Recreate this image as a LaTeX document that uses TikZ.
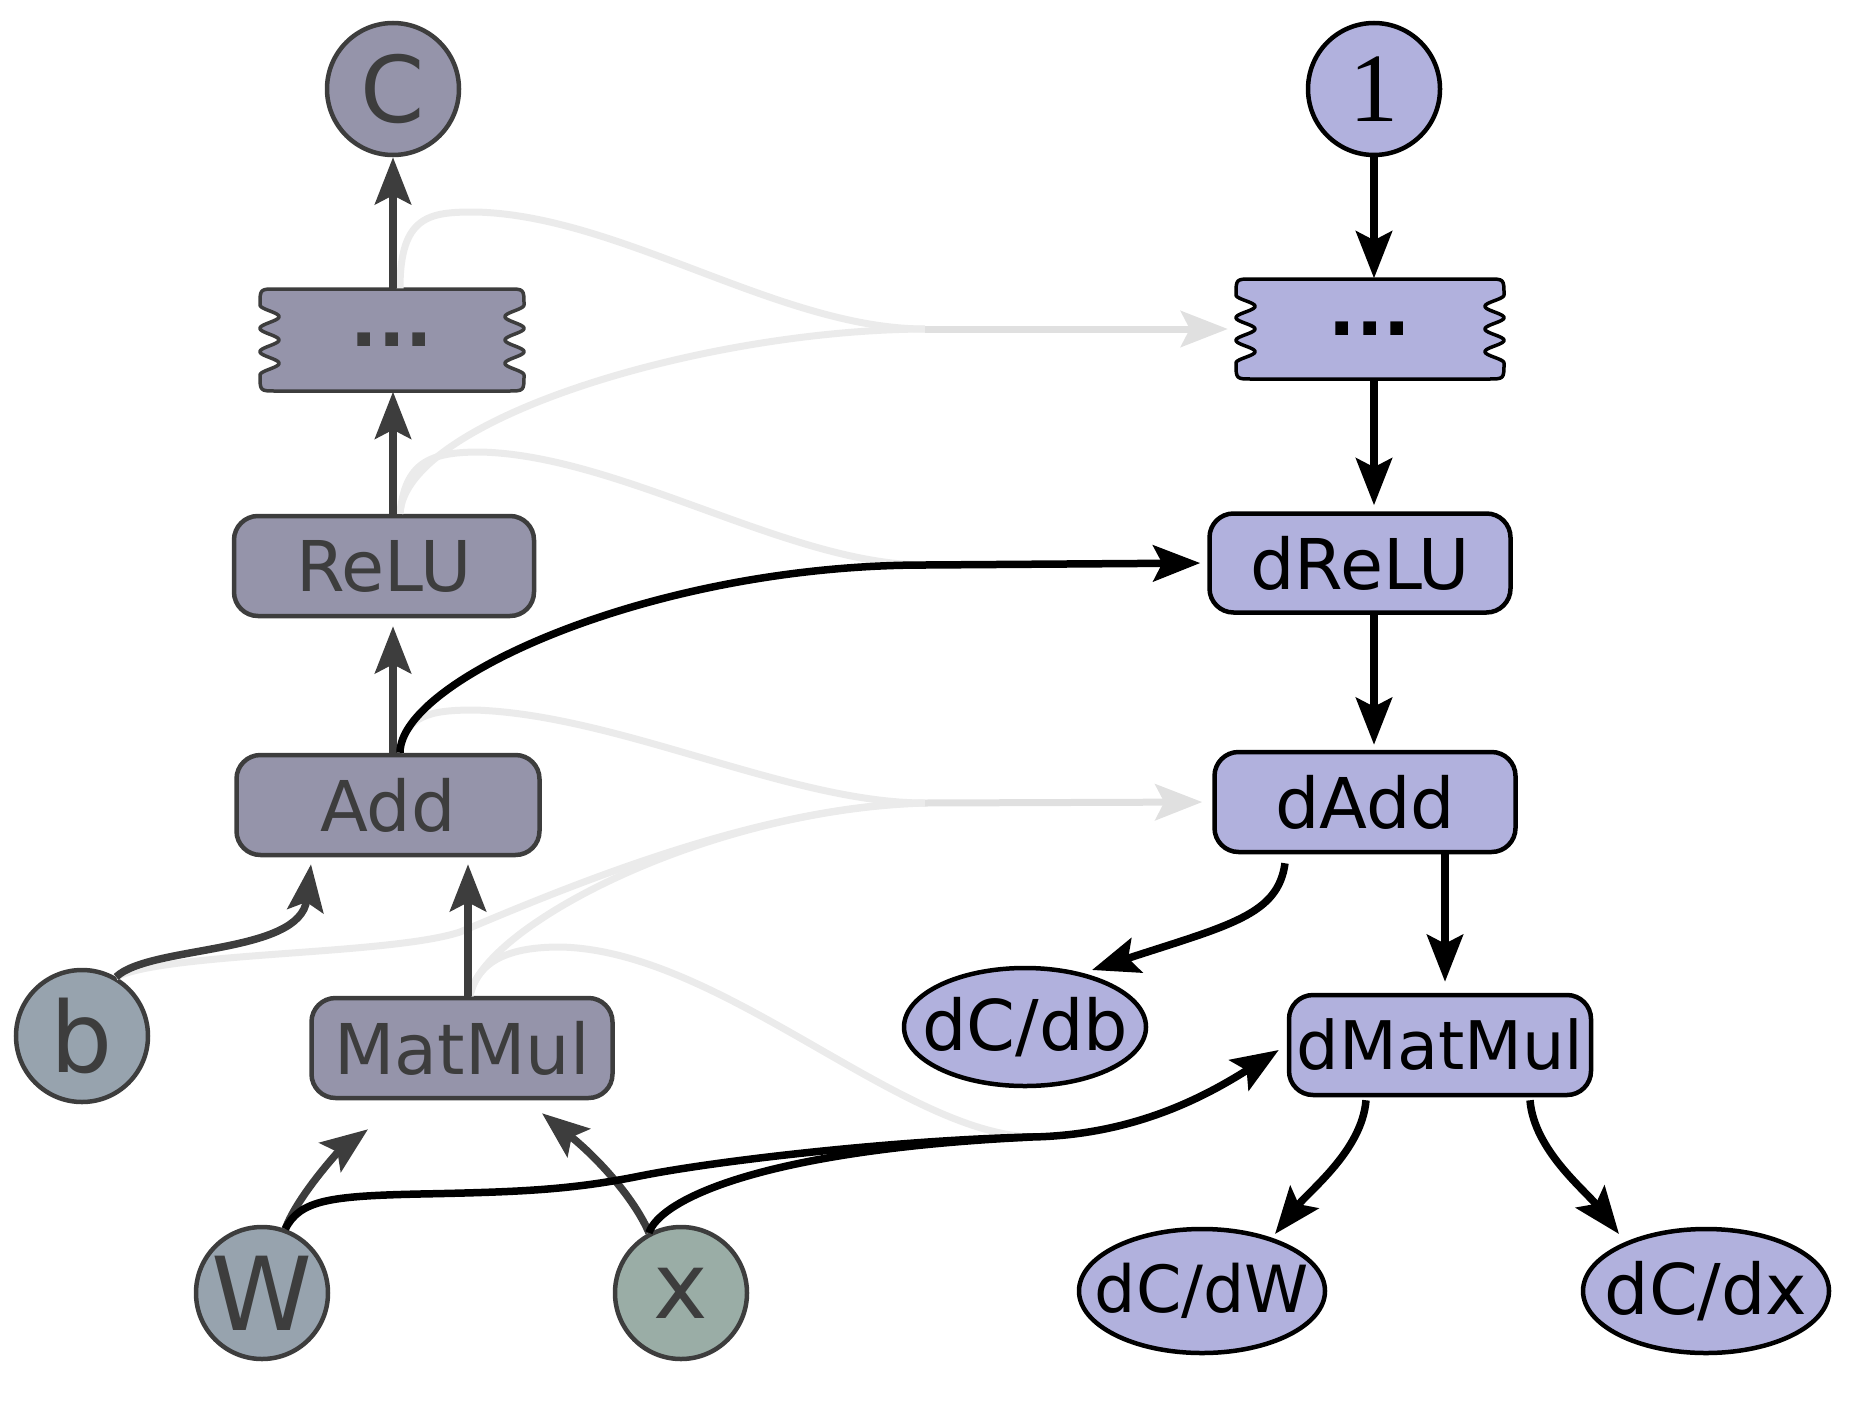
\documentclass[tikz,border=0pt]{standalone}
\usepackage{fontspec}
\setsansfont{DejaVu Sans}
\newfontfamily\oneserif{Liberation Serif}
\usetikzlibrary{arrows.meta,shapes.geometric}
\definecolor{dk}{HTML}{3D3D3D}
\definecolor{fwd}{HTML}{9594AA}
\definecolor{inp}{HTML}{97A3AE}
\definecolor{inx}{HTML}{9AADA6}
\definecolor{bwd}{HTML}{B1B1DD}
\definecolor{lg}{HTML}{EBEBEB}
\definecolor{lgb}{HTML}{E0E0E0}
\newcommand{\wavyoutline}[5]{%
  \draw[#5] ({#1-#3+16},{#2-#4}) -- ({#1+#3-16},{#2-#4})
    .. controls ({#1+#3},{#2-#4}) .. ({#1+#3},{#2-#4+16})
    -- plot[domain=0:1,samples=121,variable=\t] ({#1+#3-19*(1-cos(1080*\t))/2},{#2-#4+16+\t*(2*#4-32)})
    .. controls ({#1+#3},{#2+#4}) .. ({#1+#3-16},{#2+#4})
    -- ({#1-#3+16},{#2+#4})
    .. controls ({#1-#3},{#2+#4}) .. ({#1-#3},{#2+#4-16})
    -- plot[domain=0:1,samples=121,variable=\t] ({#1-#3+19*(1-cos(1080*\t))/2},{#2+#4-16-\t*(2*#4-32)})
    .. controls ({#1-#3},{#2-#4}) .. ({#1-#3+16},{#2-#4}) -- cycle;}
\tikzset{
  base/.style={inner sep=0pt, font=\sffamily\fontsize{70}{84}\selectfont},
  fwdop/.style={base, draw=dk, fill=fwd, text=dk, line width=4.5pt, rounded corners=24pt, minimum width=300pt, minimum height=100pt},
  bwdop/.style={base, draw=black, fill=bwd, text=black, line width=4.5pt, rounded corners=24pt, minimum width=300pt, minimum height=100pt},
  var/.style={base, circle, draw=dk, line width=4.5pt, text=dk, minimum size=132pt},
  grad/.style={base, ellipse, draw=black, fill=bwd, line width=4.5pt},
  arrowtip/.style={-{Stealth[length=47pt,width=36pt,inset=9pt]}},
  darr/.style={draw=dk, line width=7.5pt, arrowtip},
  barr/.style={draw=black, line width=7.5pt, arrowtip},
  bline/.style={draw=black, line width=7.5pt},
  gline/.style={draw=lg, line width=7pt},
  garr/.style={draw=lgb, line width=7pt, arrowtip},
}
\begin{document}
\begin{tikzpicture}[x=1pt,y=-1pt]
\useasboundingbox (0,0) rectangle (1860,1402);
% wavy outlines
\wavyoutline{392}{340}{132}{51}{draw=dk, fill=fwd, line width=3.5pt, line join=round}
\wavyoutline{1370}{329}{134}{50}{draw=black, fill=bwd, line width=3.5pt, line join=round}
% forward nodes
\node[var, fill=fwd, font=\sffamily\fontsize{92}{100}\selectfont] (C) at (393,89) {C};
\node[base, text=dk, minimum width=264pt, minimum height=103pt, font=\sffamily\bfseries\fontsize{72}{84}\selectfont] (dotsL) at (392,340) {...};
\node[fwdop] (ReLU) at (384,566) {ReLU};
\node[fwdop, minimum width=303pt] (Add) at (388,805) {Add};
\node[fwdop, minimum width=301pt] (MatMul) at (462,1048) {MatMul};
\node[var, fill=inp, font=\sffamily\fontsize{98}{100}\selectfont] (b) at (82,1036) {b};
\node[var, fill=inp, font=\sffamily\fontsize{102}{100}\selectfont] (W) at (262,1293) {W};
\node[var, fill=inx, font=\sffamily\fontsize{92}{100}\selectfont] (x) at (681,1293) {x};
% backward nodes
\node[var, fill=bwd, draw=black, text=black, font=\oneserif\fontsize{98}{100}\selectfont] (one) at (1374,89) {1};
\node[base, text=black, minimum width=268pt, minimum height=101pt, font=\sffamily\bfseries\fontsize{72}{84}\selectfont] (dotsR) at (1370,329) {...};
\node[bwdop, minimum width=301pt, minimum height=99pt] (dReLU) at (1360,563) {dReLU};
\node[bwdop, minimum width=301pt] (dAdd) at (1365,802) {dAdd};
\node[bwdop, minimum width=302pt, font=\sffamily\fontsize{67}{80}\selectfont] (dMatMul) at (1440,1045) {dMatMul};
\node[grad, minimum width=242pt, minimum height=118pt] (dCdb) at (1025,1027) {\makebox[0pt][c]{dC/db}};
\node[grad, minimum width=246pt, minimum height=124pt, font=\sffamily\fontsize{65}{80}\selectfont] (dCdW) at (1202,1291) {\makebox[0pt][c]{dC/dW}};
\node[grad, minimum width=246pt, minimum height=124pt] (dCdx) at (1706,1291) {\makebox[0pt][c]{dC/dx}};
% merge points
\coordinate (gR) at (925,329);
\coordinate (gA) at (925,803);
\coordinate (mR) at (925,565);
\coordinate (mM) at (1032,1137);
% light grey connectors
\path[gline] ([xshift=8pt]dotsL.north) .. controls (400,215) and (430,212) .. (475,212) .. controls (620,215) and (780,329) .. (gR);
\path[gline] ([xshift=16pt]ReLU.north) .. controls (405,420) and (700,330) .. (gR);
\path[gline] ([xshift=16pt]ReLU.north) .. controls (405,462) and (430,452) .. (480,452) .. controls (620,455) and (790,565) .. (mR);
\path[gline] ([xshift=12pt]Add.north) .. controls (405,715) and (430,710) .. (475,710) .. controls (620,715) and (790,803) .. (gA);
\path[gline] (b.60) .. controls (170,952) and (390,955) .. (460,932) .. controls (560,890) and (760,805) .. (gA);
\path[gline] ([xshift=8pt]MatMul.north) .. controls (480,930) and (700,810) .. (gA);
\path[gline] ([xshift=8pt]MatMul.north) .. controls (478,960) and (510,947) .. (560,947) .. controls (720,950) and (900,1133) .. (mM);
\path[garr, shorten >=8pt] (gR) -- (dotsR.west);
\path[garr, shorten >=10pt] (gA) -- (dAdd.west);
% forward arrows
\path[darr] (dotsL.north -| C) -- (C.south);
\path[darr] (ReLU.north -| C) -- (dotsL.south -| C);
\path[darr, shorten >=8pt] (Add.north -| C) -- (ReLU.south -| C);
\path[darr, shorten >=7pt] ([xshift=6pt]MatMul.north) -- ([xshift=80pt]Add.south);
\path[darr] (b.60) .. controls (150,945) and (300,955) .. ([xshift=-77pt,yshift=-7pt]Add.south);
\path[darr] (W.70) .. controls (298,1195) and (340,1150) .. ([xshift=-94pt,yshift=-29pt]MatMul.south);
\path[darr] (x.118) .. controls (635,1200) and (600,1160) .. ([xshift=80pt,yshift=-13pt]MatMul.south);
% backward arrows
\path[barr] (one.south) -- (dotsR.north -| one);
\path[barr, shorten >=6pt] (dotsR.south -| one) -- (dReLU.north -| one);
\path[barr, shorten >=5pt] (dReLU.south -| one) -- (dAdd.north -| one);
\path[barr] ([xshift=80pt]dAdd.south) -- ([xshift=5pt,yshift=11pt]dMatMul.north);
\path[barr] ([xshift=-80pt,yshift=-9pt]dAdd.south) .. controls (1278,915) and (1230,925) .. ([xshift=67pt,yshift=57pt]dCdb.center);
\path[barr] ([xshift=-74pt,yshift=-3pt]dMatMul.south) .. controls (1362,1150) and (1310,1190) .. ([xshift=73pt,yshift=57pt]dCdW.center);
\path[barr] ([xshift=90pt,yshift=-3pt]dMatMul.south) .. controls (1534,1150) and (1585,1190) .. ([xshift=-87pt,yshift=57pt]dCdx.center);
% cross connections
\path[barr, shorten >=7pt] ([xshift=12pt]Add.north) .. controls (400,680) and (650,565) .. (mR) -- (dReLU.west);
\path[bline] (x.118) .. controls (660,1200) and (760,1150) .. (mM);
\path[barr] (W.70) .. controls (300,1200) and (330,1196) .. (420,1194) .. controls (520,1192) and (570,1190) .. (640,1176) .. controls (720,1160) and (900,1140) .. (mM) .. controls (1130,1135) and (1200,1100) .. ([xshift=-8pt,yshift=-5pt]dMatMul.west);
\end{tikzpicture}
\end{document}
